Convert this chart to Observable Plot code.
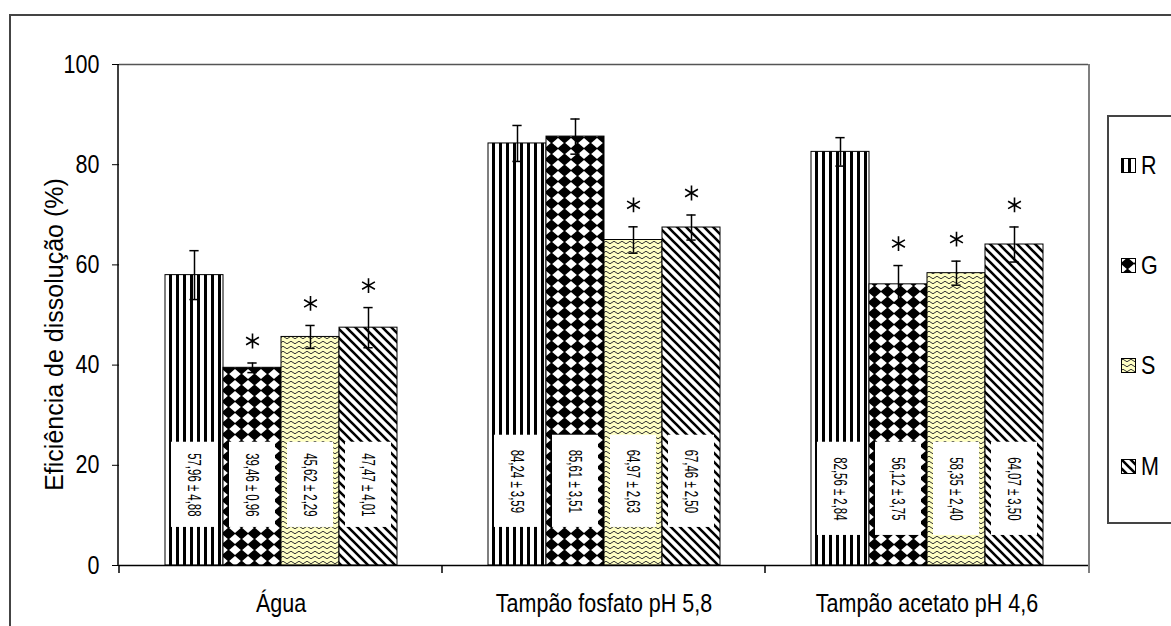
<!DOCTYPE html>
<html lang="pt">
<head>
<meta charset="utf-8">
<title>Eficiência de dissolução</title>
<script src="https://cdn.jsdelivr.net/npm/d3@7"></script>
<script src="https://cdn.jsdelivr.net/npm/@observablehq/plot@0.6"></script>
<style>
  html, body { margin: 0; padding: 0; background: #fff; }
  #chart { position: relative; width: 1171px; height: 626px; overflow: hidden; font-family: "Liberation Sans", Arial, sans-serif; }
  #chart > svg.plot-root { position: absolute; left: 0; top: 0; }
  #frame { position: absolute; left: 9px; top: 14px; width: 1300px; height: 800px; border: 2px solid #444; pointer-events: none; }
  #legend { position: absolute; left: 1107px; top: 115px; width: 120px; height: 405px; border: 2px solid #444; background: #fff; }
  .item { position: absolute; left: 12px; height: 30px; display: flex; align-items: center; }
  .item svg { margin-right: 5px; }
  .item span { font-size: 25px; display: inline-block; transform: scaleX(0.86); transform-origin: left center; color: #000; }
</style>
</head>
<body>
<svg id="defs" width="0" height="0" style="position:absolute">
  <defs>
    <!-- vertical stripes -->
    <pattern id="fill-R" patternUnits="userSpaceOnUse" width="7" height="7">
      <rect width="7" height="7" fill="#fff"/>
      <rect x="0" width="3" height="7" fill="#000"/>
    </pattern>
    <!-- black diamonds on white -->
    <pattern id="fill-G" patternUnits="userSpaceOnUse" width="13" height="11">
      <rect width="13" height="11" fill="#fff"/>
      <path d="M6.5 -0.6 L13.6 5.5 L6.5 11.6 L-0.6 5.5 Z" fill="#000"/>
    </pattern>
    <!-- waves on pale yellow -->
    <pattern id="fill-S" patternUnits="userSpaceOnUse" width="8" height="5">
      <rect width="8" height="5" fill="#ffffc4"/>
      <path d="M0 2.5 Q2 0 4 2.5 T8 2.5" fill="none" stroke="#333" stroke-width="1"/>
    </pattern>
    <!-- downward diagonal stripes -->
    <pattern id="fill-M" patternUnits="userSpaceOnUse" width="9" height="9">
      <rect width="9" height="9" fill="#fff"/>
      <path d="M-2 -2 L11 11 M-2 7 L2 11 M7 -2 L11 2" stroke="#000" stroke-width="2.6"/>
    </pattern>
  </defs>
</svg>
<div id="chart">
  <div id="legend"></div>
  <div id="frame"></div>
</div>
<script>
// Dissolution efficiency (%) of four formulations in three media, mean ± SD
const media = ["Água", "Tampão fosfato pH 5,8", "Tampão acetato pH 4,6"];
const series = ["R", "G", "S", "M"];
const efficiency = [
  [57.96, 39.46, 45.62, 47.47],
  [84.24, 85.61, 64.97, 67.46],
  [82.56, 56.12, 58.35, 64.07]
];
const deviation = [
  [4.88, 0.96, 2.29, 4.01],
  [3.59, 3.51, 2.63, 2.50],
  [2.84, 3.75, 2.40, 3.50]
];
// significant difference from R (asterisk)
const significant = [
  [false, true, true, true],
  [false, false, true, true],
  [false, true, true, true]
];
const yTicks = [0, 20, 40, 60, 80, 100];
const yTitle = "Eficiência de dissolução (%)";

// vertical extent (in % units) of the white boxes holding the value labels
const labelBand = [[7.6, 24.6], [7.6, 26], [6, 24.6]];

const rows = media.flatMap((medium, i) => series.map((s, j) => ({
  medium,
  series: s,
  value: efficiency[i][j],
  sd: deviation[i][j],
  sig: significant[i][j],
  box0: labelBand[i][0],
  box1: labelBand[i][1]
})));

const comma = v => v.toFixed(2).replace(".", ",");

// layout
const W = 1171, H = 626, mL = 118, mR = 82, mT = 64, mB = 61;
const xPadOuter = 0.755;
const barStep = (W - mL - mR) / media.length / (series.length + 2 * xPadOuter);
const capInset = (barStep - 10) / 2;
const common = { fx: "medium", x: "series" };

const plot = Plot.plot({
  width: W,
  height: H,
  marginLeft: mL,
  marginRight: mR,
  marginTop: mT,
  marginBottom: mB,
  style: {
    fontFamily: '"Liberation Sans", Arial, sans-serif',
    fontSize: "25px",
    color: "#000",
    background: "transparent",
    overflow: "visible"
  },
  fx: { domain: media, padding: 0, axis: "bottom", label: null, tickSize: 0, tickPadding: 29 },
  x: { domain: series, paddingInner: 0, paddingOuter: xPadOuter, axis: null },
  y: { domain: [0, 100], ticks: yTicks, tickSize: 7, tickPadding: 13, label: null },
  marks: [
    Plot.ruleY([100], { stroke: "#555", strokeWidth: 1.5 }),
    ...series.map(s => Plot.barY(rows.filter(d => d.series === s), {
      ...common, y: "value", fill: `url(#fill-${s})`, stroke: "#000", strokeWidth: 1
    })),
    Plot.barY(rows, { ...common, y1: "box0", y2: "box1", fill: "#fff", insetLeft: 6, insetRight: 6 }),
    Plot.text(rows, {
      ...common,
      y: d => (d.box0 + d.box1) / 2,
      text: d => `${comma(d.value)} ± ${comma(d.sd)}`,
      rotate: 90,
      fontSize: 19,
      fill: "#000"
    }),
    Plot.ruleX(rows, { ...common, y1: d => d.value - d.sd, y2: d => d.value + d.sd, stroke: "#000", strokeWidth: 1.5 }),
    Plot.tickY(rows, { ...common, y: d => d.value + d.sd, insetLeft: capInset, insetRight: capInset, stroke: "#000", strokeWidth: 1.5 }),
    Plot.tickY(rows, { ...common, y: d => d.value - d.sd, insetLeft: capInset, insetRight: capInset, stroke: "#000", strokeWidth: 1.5 }),
    Plot.dot(rows.filter(d => d.sig), {
      ...common, y: d => d.value + d.sd, symbol: "asterisk", r: 7, stroke: "#000", strokeWidth: 1.6, dy: -22
    }),
    Plot.ruleY([0], { stroke: "#000", strokeWidth: 1.5 })
  ]
});
plot.classList.add("plot-root");
const chart = document.getElementById("chart");
chart.insertBefore(plot, chart.firstChild);

const svg = d3.select(plot);

// narrow lettering
function condense(selection, k) {
  selection.each(function () {
    const len = this.getComputedTextLength();
    this.setAttribute("textLength", len * k);
    this.setAttribute("lengthAdjust", "spacingAndGlyphs");
  });
}
condense(svg.selectAll('g[aria-label="y-axis tick label"] text'), 0.86);
condense(svg.selectAll('g[aria-label="fx-axis tick label"] text'), 0.86);
condense(svg.selectAll('g[aria-label="text"] text'), 0.6);

// axis line, plot-area border and group separators
const fx = plot.scale("fx");
const yBottom = H - mB;
const edges = media.map(m => fx.apply(m)).concat(fx.apply(media[media.length - 1]) + fx.bandwidth);
const guides = svg.append("g");
guides.append("line")
  .attr("x1", W - mR).attr("x2", W - mR).attr("y1", mT).attr("y2", yBottom + 8)
  .attr("stroke", "#555").attr("stroke-width", 1.5);
guides.selectAll("line.sep").data(edges.slice(0, -1)).join("line")
  .attr("class", "sep")
  .attr("x1", d => d).attr("x2", d => d).attr("y1", yBottom).attr("y2", yBottom + 8)
  .attr("stroke", "#000").attr("stroke-width", 1.5);
guides.append("line")
  .attr("x1", mL).attr("x2", mL).attr("y1", mT).attr("y2", yBottom)
  .attr("stroke", "#000").attr("stroke-width", 1.5);

// y-axis title
svg.append("text")
  .attr("transform", `translate(63,${(mT + yBottom) / 2 + 20}) rotate(-90)`)
  .attr("text-anchor", "middle")
  .attr("font-size", 25)
  .attr("fill", "#000")
  .text(yTitle);

// legend
const legend = d3.select("#legend");
const legendTop = [48, 148, 248, 349];
series.forEach((s, i) => {
  const item = legend.append("div").attr("class", "item").style("top", `${legendTop[i] - 15}px`);
  const sw = item.append("svg").attr("width", 15).attr("height", 15);
  sw.append("rect").attr("x", 0.5).attr("y", 0.5).attr("width", 14).attr("height", 14)
    .attr("fill", `url(#fill-${s})`).attr("stroke", "#000").attr("stroke-width", 1);
  item.append("span").text(s);
});
</script>
</body>
</html>
